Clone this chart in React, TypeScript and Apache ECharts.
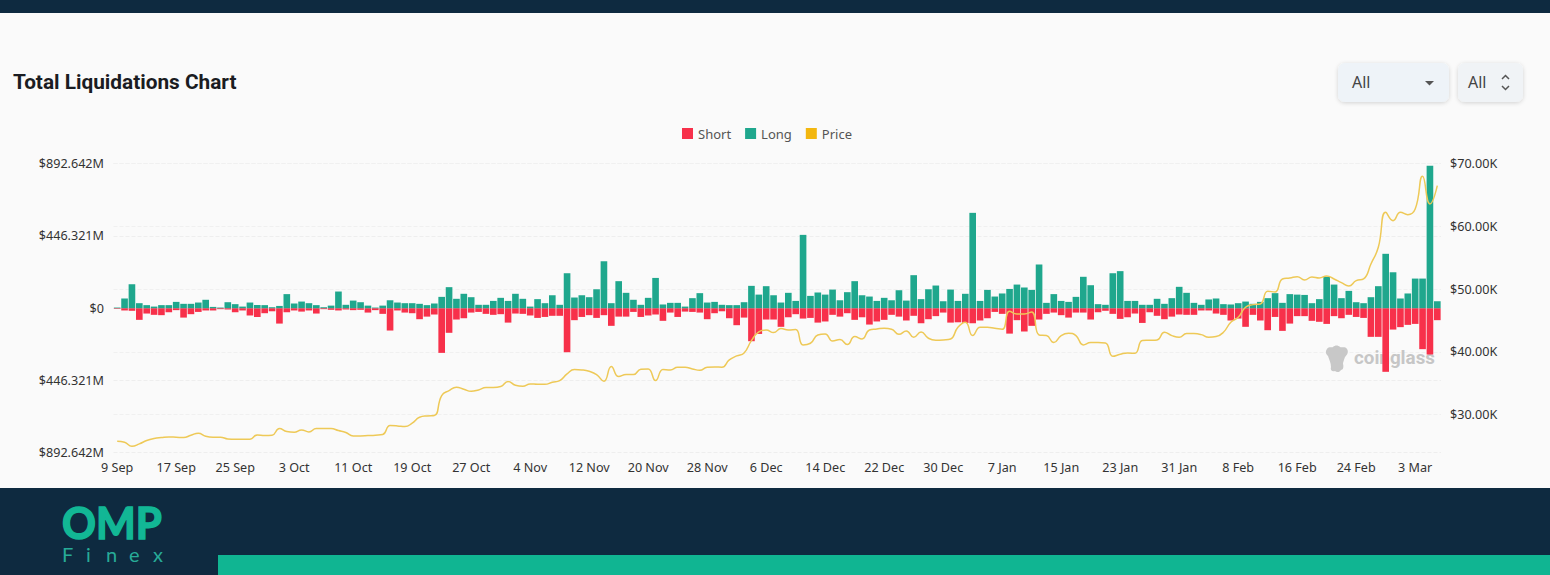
import React, { useEffect, useRef } from "react";
import * as echarts from "echarts";

const monthLabels = ["Sep", "Oct", "Nov", "Dec", "Jan", "Feb", "Mar"];
const monthDays = [30, 31, 30, 31, 31, 29, 31];
const firstDay = 9;
const dayCount = 180;

const categories: string[] = [];
{
  let m = 0;
  let d = firstDay;
  for (let i = 0; i < dayCount; i++) {
    categories.push(`${d} ${monthLabels[m]}`);
    d += 1;
    if (d > monthDays[m]) {
      d = 1;
      m += 1;
    }
  }
}

const longValues = [
  4, 60, 148, 31, 19, 10, 19, 19, 39, 27, 27, 35, 52, 8, 4, 37, 25, 10, 35, 19,
  19, 6, 14, 87, 29, 41, 31, 19, 6, 16, 103, 21, 47, 37, 16, 4, 16, 49, 35, 31,
  31, 27, 19, 29, 70, 130, 58, 89, 68, 21, 21, 45, 64, 45, 89, 58, 10, 56, 31, 80,
  21, 216, 66, 80, 68, 117, 290, 31, 167, 95, 52, 21, 64, 187, 23, 33, 33, 10, 62, 93,
  35, 39, 21, 19, 19, 37, 138, 84, 136, 80, 35, 95, 45, 453, 76, 97, 84, 115, 49, 99,
  167, 80, 72, 45, 64, 49, 111, 47, 204, 56, 117, 140, 43, 115, 45, 89, 589, 45, 113, 72,
  91, 119, 146, 128, 113, 270, 33, 87, 45, 39, 70, 194, 142, 25, 21, 216, 229, 45, 45, 21,
  21, 58, 27, 62, 132, 95, 33, 21, 54, 60, 25, 23, 31, 41, 27, 39, 62, 93, 33, 87,
  84, 82, 31, 56, 194, 146, 62, 107, 37, 31, 68, 136, 336, 222, 60, 91, 183, 183, 880, 43,
];

const shortValues = [
  -4, -14, -16, -72, -33, -41, -43, -25, -12, -58, -37, -23, -14, -14, -6, -8, -25, -14, -45, -54,
  -31, -19, -95, -25, -14, -21, -14, -33, -6, -10, -14, -8, -12, -10, -27, -12, -35, -138, -14, -27,
  -31, -68, -52, -39, -276, -152, -70, -62, -27, -23, -35, -41, -37, -89, -33, -35, -45, -60, -54, -47,
  -47, -272, -74, -54, -43, -60, -43, -109, -52, -52, -23, -54, -45, -39, -78, -27, -54, -21, -23, -27,
  -68, -31, -19, -62, -105, -58, -204, -159, -70, -70, -115, -56, -37, -64, -60, -89, -82, -41, -52, -31,
  -72, -56, -101, -82, -72, -41, -52, -76, -47, -93, -68, -49, -27, -89, -87, -91, -93, -76, -62, -23,
  -35, -157, -74, -144, -109, -70, -35, -27, -43, -58, -27, -27, -70, -25, -16, -35, -66, -56, -33, -91,
  -25, -47, -68, -52, -39, -41, -41, -14, -14, -33, -41, -76, -64, -115, -41, -76, -136, -54, -140, -95,
  -49, -49, -78, -84, -97, -49, -62, -41, -54, -60, -177, -177, -393, -132, -117, -103, -97, -253, -286, -74,
];

const priceValues = [
  25769, 25610, 24972, 25344, 25875, 26194, 26353, 26459, 26406, 26353, 26725, 27043, 26565, 26406, 26406, 26140, 26087, 26087, 26087, 26778,
  26672, 26725, 27787, 27309, 27203, 27574, 27256, 27787, 27787, 27787, 27468, 27149, 26618, 26618, 26672, 26725, 26831, 28265, 28211, 28105,
  28636, 29592, 29804, 29857, 33044, 33840, 34371, 34052, 33734, 33946, 34318, 34318, 34477, 35274, 34690, 34530, 34902, 34849, 34849, 35168,
  35433, 36495, 37185, 37132, 36920, 36389, 35327, 37663, 36070, 36389, 36389, 37238, 37291, 35433, 37185, 37132, 37557, 37557, 37291, 37079,
  37557, 37610, 37557, 38725, 39362, 39840, 41807, 43186, 43504, 43079, 43717, 43504, 43557, 41115, 41380, 42708, 42867, 41752, 41965, 41168,
  42442, 42070, 43504, 43663, 43770, 43610, 42814, 43345, 42336, 43186, 42177, 41858, 41911, 42070, 43929, 44725, 42602, 43929, 43929, 43770,
  43610, 46478, 46053, 46053, 46372, 42708, 42602, 41486, 42602, 42973, 42602, 41115, 41486, 41486, 41433, 39309, 39628, 39840, 39787, 41807,
  41858, 41911, 43132, 42602, 42336, 42920, 42920, 42761, 42336, 42442, 43132, 44725, 45522, 47115, 47540, 47646, 49664, 49558, 51628, 51788,
  52000, 51469, 51947, 51788, 52106, 51628, 51044, 50513, 51363, 51628, 54018, 56673, 62248, 60921, 62248, 61877, 62779, 67983, 63576, 66496,
];

const leftMax = 892.642;
const leftStep = 446.321;
const rightTicks = [30000, 40000, 50000, 60000, 70000];
const rightMin = 23940;
const rightMax = 70000;

const navy = "#0e2a40";
const teal = "#10b592";
const axisFont = "'Noto Sans', sans-serif";

echarts.graphic.registerShape(
  "cgIcon",
  echarts.graphic.extendPath(
    "M3 4 C5 1 8 3 9 2 C11 0 14 0 16 2 C18 3 21 1 23 4 C25 7 23 10 21 12 C20 15 19 17 19 19 C20 22 19 25 17 25 C16 27 13 28 11 26 C8 27 6 25 7 22 C7 18 5 14 4 11 C2 9 1 7 3 4 Z",
    {}
  )
);

const finexLetters: [string, number][] = [
  ["F", 62],
  ["i", 86],
  ["n", 106],
  ["e", 129],
  ["x", 153],
];

export default function App() {
  const ref = useRef<HTMLDivElement>(null);

  useEffect(() => {
    document.body.style.margin = "0";
    document.body.style.background = navy;
    const chart = echarts.init(ref.current!, null, { renderer: "svg" });
    const selectShadow = {
      shadowBlur: 4,
      shadowColor: "rgba(0,0,0,0.16)",
      shadowOffsetY: 1,
    };
    chart.setOption({
      animation: false,
      backgroundColor: navy,
      textStyle: { fontFamily: axisFont },
      color: ["#f7304a", "#1fa78d", "#f3b70f"],
      legend: {
        top: 122,
        left: 677,
        itemWidth: 11,
        itemHeight: 11,
        itemGap: 14,
        icon: "rect",
        textStyle: { color: "#555", fontSize: 13, fontFamily: axisFont },
        data: ["Short", "Long", "Price"],
      },
      grid: { left: 113.5, right: 109, top: 163.7, height: 289 },
      xAxis: {
        type: "category",
        data: categories,
        axisLine: { show: false },
        axisTick: { show: false },
        axisLabel: {
          interval: 7,
          color: "#333",
          fontSize: 12.6,
          margin: 8,
          hideOverlap: false,
          fontFamily: axisFont,
        },
      },
      yAxis: [
        {
          type: "value",
          min: -leftMax,
          max: leftMax,
          interval: leftStep,
          axisLine: { show: false },
          axisTick: { show: false },
          axisLabel: {
            color: "#333",
            fontSize: 12.6,
            margin: 9.5,
            fontFamily: axisFont,
            formatter: (v: number) =>
              Math.abs(v) < 0.001 ? "$0" : `$${Math.abs(v).toFixed(3)}M`,
          },
          splitLine: { lineStyle: { color: "#eeeeee", type: "dashed", width: 1 } },
        },
        {
          type: "value",
          min: rightMin,
          max: rightMax,
          position: "right",
          axisLine: { show: false },
          axisTick: { show: false, customValues: rightTicks },
          axisLabel: {
            color: "#333",
            fontSize: 12.6,
            margin: 9,
            fontFamily: axisFont,
            customValues: rightTicks,
            formatter: (v: number) => `$${(v / 1000).toFixed(2)}K`,
          },
          splitLine: { show: true, lineStyle: { color: "#f0f0f0", type: "dashed", width: 1 } },
        },
      ],
      series: [
        {
          name: "Short",
          type: "bar",
          stack: "liq",
          data: shortValues,
          barWidth: "90%",
          itemStyle: { color: "#f7304a" },
        },
        {
          name: "Long",
          type: "bar",
          stack: "liq",
          data: longValues,
          barWidth: "90%",
          itemStyle: { color: "#1fa78d" },
        },
        {
          name: "Price",
          type: "line",
          yAxisIndex: 1,
          data: priceValues,
          smooth: 0.5,
          showSymbol: false,
          symbol: "none",
          itemStyle: { color: "#f3b70f" },
          lineStyle: { color: "#eec957", width: 1.5 },
          z: 5,
        },
      ],
      graphic: {
        elements: [
          { type: "rect", z: -10, shape: { x: 0, y: 13, width: 1550, height: 475 }, style: { fill: "#fafafa" } },
          { type: "rect", z: -9, shape: { x: 218, y: 555, width: 1332, height: 20 }, style: { fill: teal } },
          {
            type: "text",
            z: 1,
            x: 13,
            y: 71.5,
            style: {
              text: "Total Liquidations Chart",
              fill: "#1a1c22",
              font: "bold 20.8px Roboto, sans-serif",
            },
          },
          {
            type: "rect",
            z: 1,
            shape: { x: 1338, y: 63, width: 111, height: 39, r: 7 },
            style: { fill: "#eef3f8", ...selectShadow },
          },
          {
            type: "text",
            z: 2,
            x: 1352,
            y: 74,
            style: { text: "All", fill: "#444", font: "16px 'Noto Sans', sans-serif" },
          },
          {
            type: "polygon",
            z: 2,
            shape: { points: [[1425, 81], [1434, 81], [1429.5, 85.5]] },
            style: { fill: "#555" },
          },
          {
            type: "rect",
            z: 1,
            shape: { x: 1458, y: 63, width: 65, height: 39, r: 7 },
            style: { fill: "#f0f3f6", ...selectShadow },
          },
          {
            type: "text",
            z: 2,
            x: 1468,
            y: 74,
            style: { text: "All", fill: "#444", font: "16px 'Noto Sans', sans-serif" },
          },
          {
            type: "polyline",
            z: 2,
            shape: { points: [[1502, 79], [1505.5, 75.5], [1509, 79]] },
            style: { stroke: "#555", lineWidth: 1.5, fill: "none" },
          },
          {
            type: "polyline",
            z: 2,
            shape: { points: [[1502, 86], [1505.5, 89.5], [1509, 86]] },
            style: { stroke: "#555", lineWidth: 1.5, fill: "none" },
          },
          {
            type: "cgIcon",
            z: 1,
            x: 1324,
            y: 345,
            style: { fill: "#c8c8c8" },
          },
          {
            type: "text",
            z: 1,
            x: 1354,
            y: 348,
            style: {
              text: "coinglass",
              fill: "#c6c6c6",
              font: "bold 18.8px Roboto, sans-serif",
            },
          },
          {
            type: "text",
            z: 1,
            x: 62,
            y: 500,
            scaleX: 0.955,
            style: {
              text: "OMP",
              fill: "#12b795",
              stroke: "#12b795",
              lineWidth: 1.6,
              font: "bold 44px Lato, sans-serif",
            },
          },
          ...finexLetters.map(([letter, x]) => ({
            type: "text",
            z: 1,
            x,
            y: 544,
            style: { text: letter, fill: "#27ab98", font: "20px Lato, sans-serif" },
          })),
        ],
      },
    });
    return () => chart.dispose();
  }, []);

  return <div ref={ref} style={{ width: 1550, height: 575 }} />;
}
